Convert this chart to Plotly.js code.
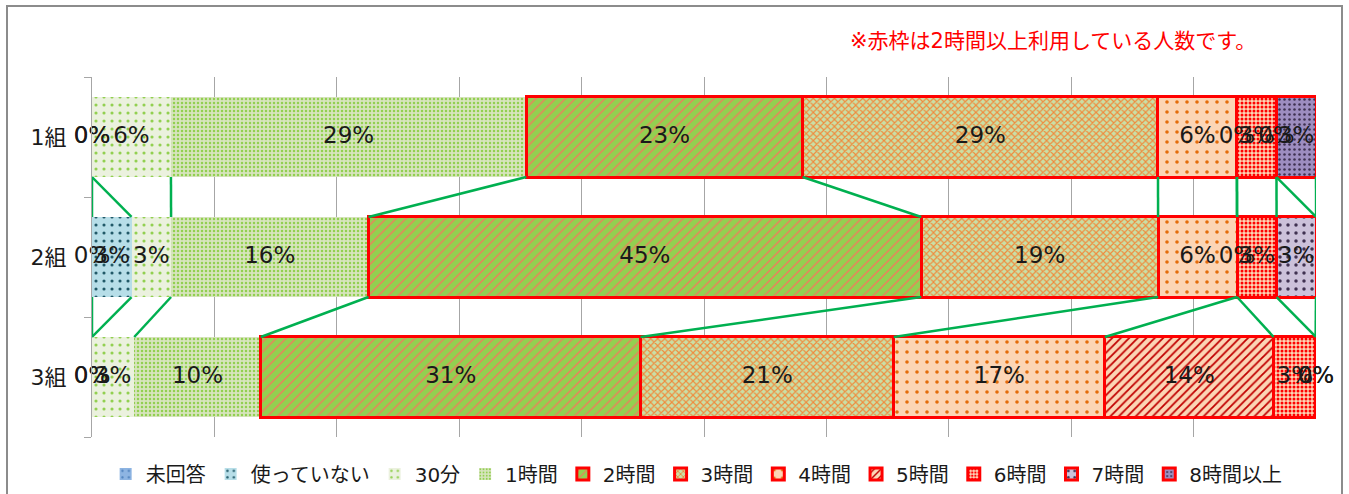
<!DOCTYPE html>
<html>
<head>
<meta charset="utf-8">
<script src="https://cdn.plot.ly/plotly-3.0.1.min.js"></script>
<style>
  html, body { margin: 0; padding: 0; background: #fff; }
  #wrap { position: relative; width: 1349px; height: 494px; overflow: hidden; }
  #chart { position: absolute; left: 0; top: 0; width: 1349px; height: 494px; }
  #frame { position: absolute; left: 6px; top: 5px; width: 1333px; height: 520px;
           border: 2px solid #8c8c8c; pointer-events: none; }
</style>
</head>
<body>
<div id="wrap">
  <div id="chart"></div>
  <div id="frame"></div>
</div>
<script>
// ---- data (percent of each group) ----
const categories = ['1組', '2組', '3組'];
const seriesNames = ['未回答', '使っていない', '30分', '1時間', '2時間', '3時間',
                     '4時間', '5時間', '6時間', '7時間', '8時間以上'];
const group1 = [0, 0, 6.45, 29.03, 22.58, 29.03, 6.45, 0, 3.23, 0, 3.23];
const group2 = [0, 3.23, 3.23, 16.13, 45.16, 19.35, 6.45, 0, 3.23, 3.23, 0];
const group3 = [0, 0, 3.45, 10.34, 31.03, 20.69, 17.24, 13.79, 3.45, 0, 0];
const noteText = '※赤枠は2時間以上利用している人数です。';

// ---- styles ----
const styles = [
  {bg: '#8DB4E2', fg: '#4F81BD', shape: '.', size: 8, sol: 0.1, red: false},
  {bg: '#B7DEE8', fg: '#215968', shape: '.', size: 8, sol: 0.12, red: false},
  {bg: '#EBF1DE', fg: '#92D050', shape: '.', size: 8, sol: 0.12, red: false},
  {bg: '#D7E4BD', fg: '#92D050', shape: '.', size: 4, sol: 0.3, red: false},
  {bg: '#92D050', fg: '#F07C5C', shape: '/', size: 7, sol: 0.2, red: true},
  {bg: '#C9DFA6', fg: '#F08A3C', shape: 'x', size: 5, sol: 0.4, red: true},
  {bg: '#FCD5B5', fg: '#E46C0A', shape: '.', size: 10, sol: 0.1, red: true},
  {bg: '#FCD5B5', fg: '#C00000', shape: '/', size: 6, sol: 0.3, red: true},
  {bg: '#FCD5B5', fg: '#FF0000', shape: '.', size: 4, sol: 0.45, red: true},
  {bg: '#CCC1DA', fg: '#403151', shape: '.', size: 8, sol: 0.15, red: true},
  {bg: '#9D8DC0', fg: '#3F3151', shape: '.', size: 5, sol: 0.2, red: true}
];

const groups = [group1, group2, group3];
const yPos = categories.map((c, i) => i);
const BW = 0.667;
const FONT = 'DejaVu Sans, "Noto Sans CJK JP", sans-serif';

const traces = [];
seriesNames.forEach((name, k) => {
  const s = styles[k];
  traces.push({
    type: 'bar', orientation: 'h', name: name,
    x: groups.map(g => g[k]), y: yPos, width: BW,
    marker: {
      color: s.bg,
      pattern: {shape: s.shape, bgcolor: s.bg, fgcolor: s.fg, size: s.size, solidity: s.sol},
      line: {color: s.red ? '#FF0000' : 'rgba(0,0,0,0)', width: s.red ? 3 : 0}
    },
    hoverinfo: 'skip'
  });
});

// cumulative sums
const cums = groups.map(g => { let c = 0; return g.map(v => (c += v)); });

// series lines (green connectors)
const lx = [], ly = [];
for (let r = 0; r < groups.length - 1; r++) {
  for (let k = 0; k < seriesNames.length; k++) {
    lx.push(cums[r][k], cums[r + 1][k], null);
    ly.push(r + BW / 2, r + 1 - BW / 2, null);
  }
}
traces.push({
  type: 'scatter', mode: 'lines', x: lx, y: ly, showlegend: false,
  line: {color: '#00B050', width: 2.5}, hoverinfo: 'skip', cliponaxis: false
});

// data labels
const tx = [], ty = [], tt = [];
groups.forEach((g, r) => {
  g.forEach((v, k) => {
    tx.push(cums[r][k] - v / 2);
    ty.push(r);
    tt.push(Math.round(v) + '%');
  });
});
traces.push({
  type: 'scatter', mode: 'text', x: tx, y: ty, text: tt, showlegend: false,
  textposition: 'middle center', textfont: {family: FONT, size: 23, color: '#1a1a1a'},
  hoverinfo: 'skip', cliponaxis: false
});

const layout = {
  width: 1349, height: 494,
  margin: {l: 92, r: 33, t: 77, b: 57, autoexpand: false},
  paper_bgcolor: '#ffffff', plot_bgcolor: '#ffffff',
  font: {family: FONT, color: '#1a1a1a'},
  barmode: 'stack',
  showlegend: true,
  xaxis: {
    range: [0, 100], dtick: 10, tick0: 0, showgrid: true, gridcolor: '#A6A6A6', gridwidth: 1,
    showticklabels: false, zeroline: false, showline: false, ticks: '', fixedrange: true
  },
  yaxis: {
    range: [2.5, -0.5], tickvals: yPos, ticktext: categories, ticks: '',
    showgrid: false, zeroline: false, showline: true, linecolor: '#A6A6A6', linewidth: 1,
    tickfont: {family: FONT, size: 22, color: '#1a1a1a'}, ticklabelstandoff: 20,
    minor: {tickvals: [-0.5, 0.5, 1.5, 2.5], ticks: 'outside', ticklen: 7, tickcolor: '#A6A6A6', showgrid: false},
    fixedrange: true, automargin: false
  },
  legend: {
    orientation: 'h', x: 0.494, xanchor: 'center', y: -0.103, yanchor: 'middle',
    font: {family: FONT, size: 20, color: '#1a1a1a'}, traceorder: 'normal',
    itemwidth: 30, tracegroupgap: 0
  },
  annotations: [{
    text: noteText, xref: 'paper', yref: 'paper', x: 0.785, y: 1.1, xanchor: 'center', yanchor: 'middle',
    showarrow: false, font: {family: FONT, size: 21, color: '#FF0000'}
  }]
};

Plotly.newPlot('chart', traces, layout, {displayModeBar: false, staticPlot: true});
</script>
</body>
</html>
